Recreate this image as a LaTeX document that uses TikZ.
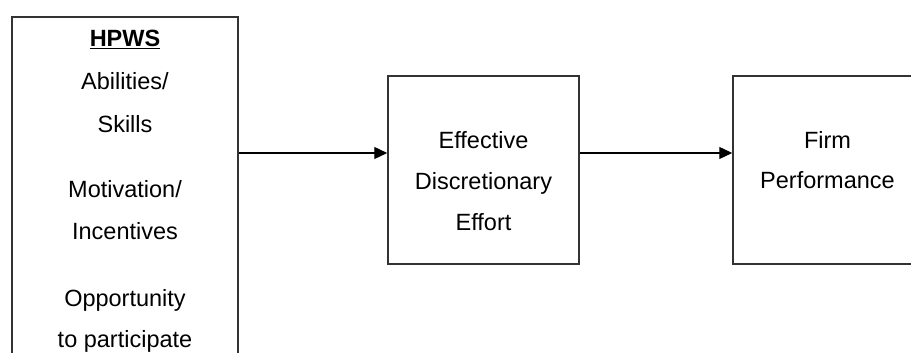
\documentclass[tikz,border=0pt]{standalone}
\usepackage{fontspec}
\setmainfont{Liberation Sans}
\usetikzlibrary{arrows.meta}

\tikzset{
  box/.style={shape=rectangle,draw=black!80,line width=1.5pt,inner sep=0pt},
  txt/.style={anchor=base,inner sep=0pt,font=\fontsize{23.5}{41}\selectfont},
  flow/.style={-{Triangle[length=13pt,width=12pt]},line width=1.3pt,black}
}

\begin{document}
\begin{tikzpicture}[x=1pt,y=1pt]

	\path[use as bounding box,clip] (0,0) rectangle (911,353);

	\node[box,minimum width=226pt,minimum height=366pt] (hpws)   at (125, 153)   {};
	\node[box,minimum width=191pt,minimum height=188pt] (effort) at (483.5, 183) {};
	\node[box,minimum width=217pt,minimum height=188pt] (perf)   at (841.5, 183) {};

	\node[txt] (t1) at (125, 306) {\underline{\textbf{HPWS}}};
	\node[txt] (t2) at (125, 263) {Abilities/};
	\node[txt] (t3) at (125, 220) {Skills};
	\node[txt] (t4) at (125, 155) {Motivation/};
	\node[txt] (t5) at (125, 113) {Incentives};
	\node[txt] (t6) at (125, 46)  {Opportunity};
	\node[txt] (t7) at (125, 5)   {to participate};

	\node[txt] (e1) at (483.5, 204) {Effective};
	\node[txt] (e2) at (483.5, 163) {Discretionary};
	\node[txt] (e3) at (483.5, 122) {Effort};

	\node[txt] (p1) at (827.5, 204) {Firm};
	\node[txt] (p2) at (827.5, 164) {Performance};

	\coordinate (ay) at (0, 200);

	\path[flow] (hpws.east |- ay)   edge (effort.west |- ay);
	\path[flow] (effort.east |- ay) edge (perf.west |- ay);

\end{tikzpicture}
\end{document}
